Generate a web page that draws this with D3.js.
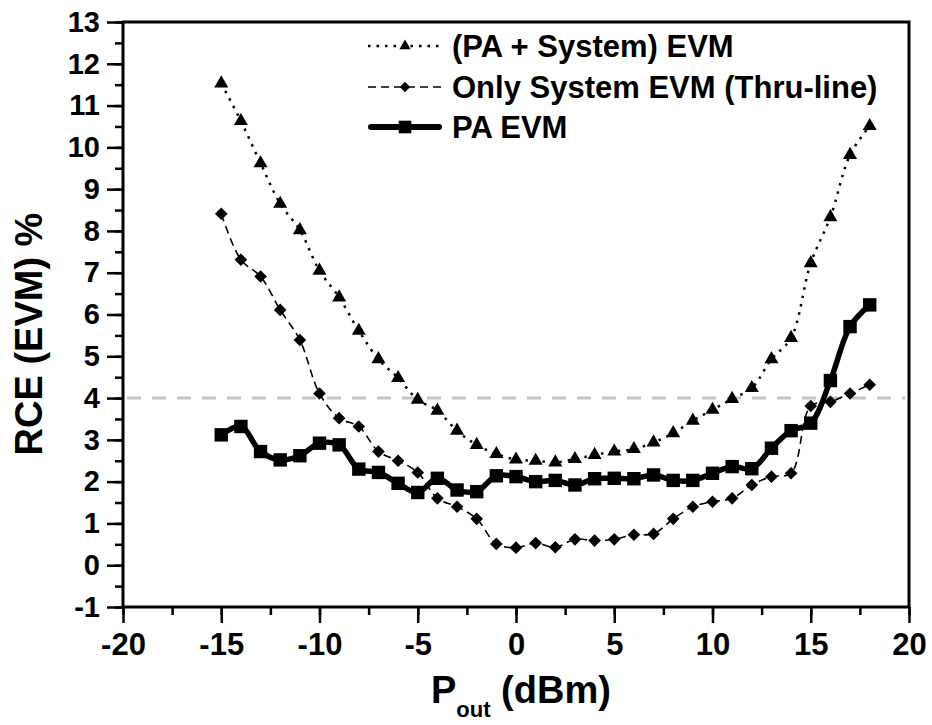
<!DOCTYPE html>
<html><head><meta charset="utf-8">
<script src="https://cdn.jsdelivr.net/npm/d3@7"></script>
<style>
html,body{margin:0;padding:0;background:#fff;}
text{font-family:"Liberation Sans",Arial,Helvetica,sans-serif;font-weight:bold;fill:#000;}
</style></head>
<body><svg id="c" width="932" height="725"></svg>
<script>
const xValues = [-15,-14,-13,-12,-11,-10,-9,-8,-7,-6,-5,-4,-3,-2,-1,0,1,2,3,4,5,6,7,8,9,10,11,12,13,14,15,16,17,18];
const paSystemEVM = [11.53,10.63,9.62,8.65,8.02,7.05,6.41,5.61,4.93,4.48,3.96,3.70,3.22,2.88,2.66,2.53,2.50,2.46,2.54,2.64,2.72,2.78,2.94,3.16,3.46,3.72,3.98,4.24,4.93,5.44,7.23,8.33,9.82,10.51];
const systemEVM = [8.41,7.31,6.91,6.11,5.39,4.11,3.52,3.32,2.72,2.50,2.22,1.60,1.40,1.11,0.51,0.42,0.53,0.43,0.62,0.59,0.62,0.73,0.75,1.11,1.40,1.52,1.60,1.92,2.12,2.20,3.81,3.91,4.11,4.32];
const paEVM = [3.12,3.32,2.72,2.52,2.62,2.92,2.88,2.30,2.22,1.96,1.74,2.08,1.80,1.76,2.14,2.12,2.00,2.03,1.92,2.07,2.08,2.07,2.16,2.03,2.03,2.20,2.36,2.31,2.80,3.22,3.40,4.42,5.71,6.23];
const seriesNames = ["(PA + System) EVM","Only System EVM (Thru-line)","PA EVM"];
const xTicks = [-20,-15,-10,-5,0,5,10,15,20];
const yTicks = [-1,0,1,2,3,4,5,6,7,8,9,10,11,12,13];
const refLevel = 4;

const svg = d3.select("#c");
const L=123, R=909, T=22, B=607;
const x = d3.scaleLinear().domain([-20,20]).range([L,R]);
const y = d3.scaleLinear().domain([-1,13]).range([B,T]);
const fmt = d => String(d);

// reference dashed line
svg.append("line").attr("x1",L+4).attr("x2",R-4).attr("y1",y(refLevel)).attr("y2",y(refLevel))
  .attr("stroke","#c4c4c4").attr("stroke-width",3).attr("stroke-dasharray","14,11");

// axes
const xMinor = d3.range(-20,20.1,2.5);
const yMinor = d3.range(-1,13.01,0.5);
const gx = svg.append("g").attr("transform",`translate(0,${B})`);
gx.call(d3.axisBottom(x).tickValues(xMinor).tickSize(8).tickFormat(""));
gx.selectAll(".tick line").attr("stroke-width",2.5);
gx.select(".domain").remove();
const gx2 = svg.append("g").attr("transform",`translate(0,${B})`);
gx2.call(d3.axisBottom(x).tickValues(xTicks).tickSize(16).tickFormat(fmt));
gx2.select(".domain").remove();
gx2.selectAll(".tick line").attr("stroke-width",2.5);
gx2.selectAll(".tick text").attr("y",26).style("font-size","31px").attr("fill","#000");

const gy = svg.append("g").attr("transform",`translate(${L},0)`);
gy.call(d3.axisLeft(y).tickValues(yMinor).tickSize(8).tickFormat(""));
gy.select(".domain").remove();
gy.selectAll(".tick line").attr("stroke-width",2.5);
const gy2 = svg.append("g").attr("transform",`translate(${L},0)`);
gy2.call(d3.axisLeft(y).tickValues(yTicks).tickSize(16).tickPadding(7).tickFormat(fmt));
gy2.select(".domain").remove();
gy2.selectAll(".tick line").attr("stroke-width",2.5);
gy2.selectAll(".tick text").style("font-size","29px").attr("fill","#000");

// frame
svg.append("rect").attr("x",L).attr("y",T).attr("width",R-L).attr("height",B-T)
  .attr("fill","none").attr("stroke","#000").attr("stroke-width",3);

const curve = d3.curveCatmullRom.alpha(0.5);
const line = vals => d3.line().x((d,i)=>x(xValues[i])).y(d=>y(d)).curve(curve)(vals);

svg.append("path").attr("d",line(paSystemEVM)).attr("fill","none").attr("stroke","#000")
  .attr("stroke-width",2.5).attr("stroke-dasharray","2.5,6");
svg.append("path").attr("d",line(systemEVM)).attr("fill","none").attr("stroke","#000")
  .attr("stroke-width",1.6).attr("stroke-dasharray","8,5");
svg.append("path").attr("d",line(paEVM)).attr("fill","none").attr("stroke","#000")
  .attr("stroke-width",5.5).attr("stroke-linejoin","round");

const tri = d3.symbol().type(d3.symbolTriangle).size(85);
const sq = d3.symbol().type(d3.symbolSquare).size(80);
const sqBig = d3.symbol().type(d3.symbolSquare).size(180);
svg.append("g").selectAll("path").data(paSystemEVM).join("path")
  .attr("d",tri).attr("transform",(d,i)=>`translate(${x(xValues[i])},${y(d)})`);
svg.append("g").selectAll("path").data(systemEVM).join("path")
  .attr("d",sq).attr("transform",(d,i)=>`translate(${x(xValues[i])},${y(d)}) rotate(45)`);
svg.append("g").selectAll("path").data(paEVM).join("path")
  .attr("d",sqBig).attr("transform",(d,i)=>`translate(${x(xValues[i])},${y(d)})`);

// legend
const lg = svg.append("g");
const lx1=368, lx2=442, lxm=405, ltx=452;
const rows=[46,87,127];
lg.append("line").attr("x1",lx1).attr("x2",lx2).attr("y1",rows[0]).attr("y2",rows[0])
  .attr("stroke","#000").attr("stroke-width",2.5).attr("stroke-dasharray","2.5,6");
lg.append("path").attr("d",d3.symbol().type(d3.symbolTriangle).size(55)).attr("transform",`translate(${lxm},${rows[0]})`);
lg.append("line").attr("x1",lx1).attr("x2",lx2).attr("y1",rows[1]).attr("y2",rows[1])
  .attr("stroke","#000").attr("stroke-width",1.6).attr("stroke-dasharray","8,5");
lg.append("path").attr("d",d3.symbol().type(d3.symbolSquare).size(55)).attr("transform",`translate(${lxm},${rows[1]}) rotate(45)`);
lg.append("line").attr("x1",lx1+3).attr("x2",lx2-3).attr("y1",rows[2]).attr("y2",rows[2])
  .attr("stroke","#000").attr("stroke-width",6).attr("stroke-linecap","round");
lg.append("path").attr("d",d3.symbol().type(d3.symbolSquare).size(160)).attr("transform",`translate(${lxm},${rows[2]})`);
seriesNames.forEach((s,i)=>{
  lg.append("text").attr("x",ltx).attr("y",rows[i]).attr("dy","0.36em").style("font-size","31px").text(s);
});

// axis titles
const xt = svg.append("text").attr("x",431).attr("y",703).style("font-size","38px");
xt.append("tspan").text("P");
xt.append("tspan").attr("dy",14).style("font-size","22px").text("out");
xt.append("tspan").attr("dy",-14).text(" (dBm)");
svg.append("text").attr("transform","translate(42,334) rotate(-90)").attr("text-anchor","middle")
  .style("font-size","38px").text("RCE (EVM) %");
</script></body></html>
